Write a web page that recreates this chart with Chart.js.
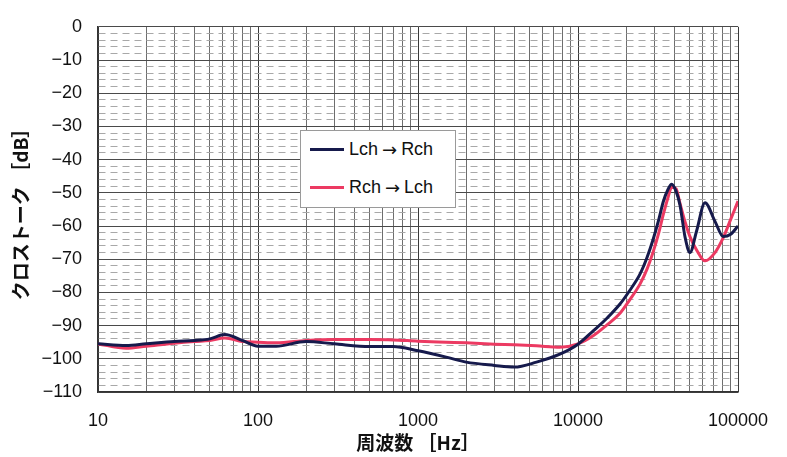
<!DOCTYPE html>
<html>
<head>
<meta charset="utf-8">
<script src="https://cdn.jsdelivr.net/npm/chart.js@4.4.1/dist/chart.umd.min.js"></script>
<style>
  body { margin: 0; background: #fff; }
  #wrap { position: relative; width: 787px; height: 457px; }
  #legend {
    position: absolute; left: 300px; top: 130px; width: 154px; height: 76px;
    background: #fff; border: 1px solid #9a9a9a;
    font-family: "Liberation Sans", Arial, sans-serif; font-size: 18px; color: #111;
  }
  .item { position: absolute; left: 9px; display: flex; align-items: center; }
  .swatch { width: 34px; height: 3px; margin-right: 5px; }
  .arr { font-family: "DejaVu Sans", sans-serif; font-size: 18px; margin: 0 4px; }
</style>
</head>
<body>
<div id="wrap">
  <canvas id="chart" width="787" height="457"></canvas>
  <div id="legend">
    <div class="item" style="top:8px"><span class="swatch" style="background:#161a4c"></span>Lch<span class="arr">→</span>Rch</div>
    <div class="item" style="top:46px"><span class="swatch" style="background:#ec3a62"></span>Rch<span class="arr">→</span>Lch</div>
  </div>
</div>
<script>
// frequencies in Hz (log axis)
const freqs = [10, 15, 20, 30, 40, 50, 62, 80, 100, 130, 200, 300, 500, 700, 1000, 1500, 2000, 3000, 4000, 5500, 7700,
  10000, 12500, 15000, 18300, 21000, 24400, 27000, 29500, 32000, 34100, 36500, 38500, 41000, 43400, 46700, 50100,
  55100, 62200, 71800, 80900, 90000, 100000];

// crosstalk in dB
const lchToRch = [-95.5, -96, -95.5, -94.8, -94.5, -94, -92.7, -94.5, -96.2, -96.2, -94.8, -95.5, -96.3, -96.3, -97.6, -99.5, -101, -102, -102.5, -101, -98.6,
  -95.6, -91.5, -88, -83.5, -79.5, -74.5, -69.5, -64, -58, -52.7, -49, -47.4, -49.5, -53.7, -63.4, -68,
  -61.5, -53, -58.6, -63.2, -62.5, -60];
const rchToLch = [-95.5, -96.8, -96.2, -95.3, -94.8, -94.5, -93.7, -94.8, -95, -95.2, -94.5, -94.2, -94.2, -94.3, -94.7, -95, -95.2, -95.6, -95.8, -96.1, -96.5,
  -95.5, -93, -90, -86.3, -82.3, -77.5, -73, -67.8, -62, -56.6, -51.5, -48.3, -48.8, -53.2, -58.8, -63.2,
  -67.2, -70.5, -68, -63.5, -58, -52.5];

const xDecades = [10, 100, 1000, 10000, 100000];
const yMajor = [0, -10, -20, -30, -40, -50, -60, -70, -80, -90, -100, -110];

const tickFont = { family: '"Liberation Sans", Arial, sans-serif', size: 18 };
const titleFont = { family: '"Noto Sans CJK JP", sans-serif', size: 19, weight: 'bold' };

function pts(vals) {
    return freqs.map((f, i) => ({ x: f, y: vals[i] }));
}

const isDecade = v => xDecades.includes(v);
const isMajorY = v => yMajor.includes(v);

new Chart(document.getElementById('chart'), {
    type: 'line',
    data: {
        datasets: [
            { label: 'Lch → Rch', data: pts(lchToRch), borderColor: '#161a4c', borderWidth: 3, pointRadius: 0, cubicInterpolationMode: 'monotone', fill: false },
            { label: 'Rch → Lch', data: pts(rchToLch), borderColor: '#ec3a62', borderWidth: 3, pointRadius: 0, cubicInterpolationMode: 'monotone', fill: false }
        ]
    },
    options: {
        responsive: false,
        animation: false,
        layout: { padding: { left: 0, right: 49, top: 17, bottom: 0 } },
        plugins: { legend: { display: false }, tooltip: { enabled: false } },
        scales: {
            x: {
                type: 'logarithmic', min: 10, max: 100000,
                afterBuildTicks: s => {
                    const t = [];
                    xDecades.slice(0, -1).forEach(d => { for (let m = 1; m <= 9; m++) t.push({ value: d * m }); });
                    t.push({ value: 100000 });
                    s.ticks = t;
                },
                afterFit: s => { s.height = 65; },
                ticks: { autoSkip: false, maxRotation: 0, padding: 18, color: '#111', font: tickFont,
                    callback: v => isDecade(v) ? String(v) : '' },
                grid: { drawTicks: false, lineWidth: 1, color: c => c.tick && isDecade(c.tick.value) ? '#3a3a3a' : '#6e6e6e' },
                border: { color: '#333', width: 1.5 },
                title: { display: true, text: '周波数 ［Hz］', color: '#111', font: titleFont, padding: { top: 0, bottom: 3 } }
            },
            y: {
                min: -110, max: 0,
                ticks: { stepSize: 2, autoSkip: false, padding: 16, color: '#111', font: tickFont,
                    callback: v => isMajorY(v) ? (v < 0 ? '−' + (-v) : '0') : '' },
                afterFit: s => { s.width = 98; },
                grid: { drawTicks: false, lineWidth: 1,
                    color: c => c.tick && isMajorY(c.tick.value) ? '#4a4a4a' : '#a8a8a8' },
                border: { color: '#333', width: 1.5,
                    dash: c => (c.tick && !isMajorY(c.tick.value)) ? [7, 5] : [] },
                title: { display: true, text: 'クロストーク ［dB］', color: '#111', font: titleFont, padding: { top: 9, bottom: 0 } }
            }
        }
    }
});
</script>
</body>
</html>
